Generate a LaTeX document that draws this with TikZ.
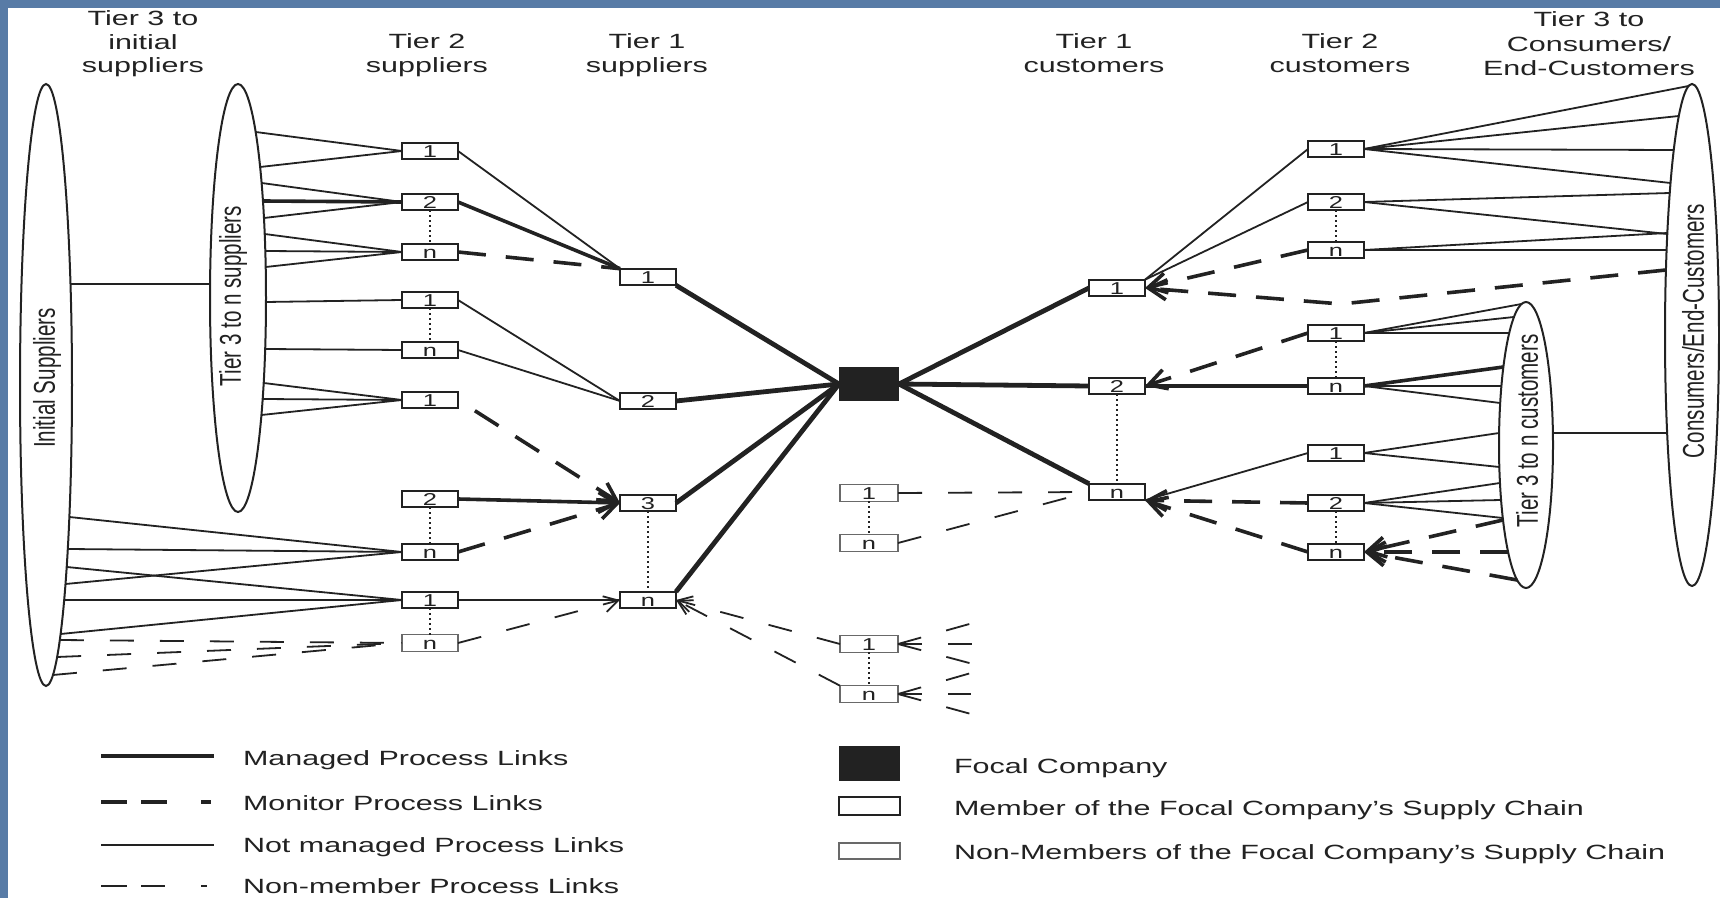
\documentclass[tikz,border=0pt]{standalone}
\usepackage{fontspec}
\setmainfont{Liberation Sans}
\newfontfamily\widesans{Liberation Sans}[FakeStretch=1.48]
\usetikzlibrary{arrows.meta,calc,shapes.geometric}

\definecolor{slide}{RGB}{88,123,166}
\definecolor{ink}{RGB}{34,34,34}
\definecolor{nmgray}{RGB}{105,105,105}

% point on the border of an ellipse node: name, node, rx (negative = left side), ry, dy
\newcommand\ept[5]{%
  \pgfmathsetmacro\eptdx{(#3)*sqrt(max(0,1-((#5)/(#4))*((#5)/(#4))))}%
  \coordinate (#1) at ($(#2.center)+(\eptdx,#5)$);}

\tikzset{
  every node/.style={inner sep=0pt, outer sep=0pt, text=ink},
  hdr/.style={font=\widesans\fontsize{10.3}{12}\selectfont, anchor=base},
  lgd/.style={font=\widesans\fontsize{10.3}{12}\selectfont, anchor=base west},
  mbox/.style={draw=ink, line width=1pt, fill=white, minimum width=28pt, minimum height=8.3pt,
    font=\widesans\fontsize{8.6}{9}\selectfont, text height=6.1pt, text depth=0pt},
  nbox/.style={mbox, draw=nmgray, line width=0.7pt},
  focal/.style={fill=ink, minimum width=30pt, minimum height=17pt},
  oval/.style={ellipse, draw=ink, line width=1pt},
  vlabel/.style={font=\fontsize{10.3}{12}\selectfont},
  plain/.style={draw=ink, line width=0.9pt},
  managed/.style={draw=ink, line width=1.8pt},
  core/.style={draw=ink, line width=2.4pt},
  monitor/.style={draw=ink, line width=1.8pt, dash pattern=on 14pt off 10pt},
  nonmem/.style={draw=ink, line width=0.9pt, dash pattern=on 12pt off 13pt},
  dots/.style={draw=ink, line width=1pt, dash pattern=on 1pt off 1.5pt},
  arr/.style={-{Straight Barb[length=9pt,width=10pt]}},
  arrs/.style={-{Straight Barb[length=7pt,width=8pt]}},
}

\begin{document}
\begin{tikzpicture}[x=0.5pt, y=-0.5pt]
% slide background and white sheet
\fill[slide] (0,0) rectangle (1720,898);
\fill[white] (8,8) rectangle (1720,898);
\useasboundingbox (0,0) rectangle (1720,898);

% column headings
\node[hdr] (h1a) at (143,26) {Tier 3 to};
\node[hdr] (h1b) at (143,50) {initial};
\node[hdr] (h1c) at (143,73) {suppliers};
\node[hdr] (h2a) at (427,49) {Tier 2};
\node[hdr] (h2b) at (427,73) {suppliers};
\node[hdr] (h3a) at (647,49) {Tier 1};
\node[hdr] (h3b) at (647,73) {suppliers};
\node[hdr] (h4a) at (1094,49) {Tier 1};
\node[hdr] (h4b) at (1094,73) {customers};
\node[hdr] (h5a) at (1340,49) {Tier 2};
\node[hdr] (h5b) at (1340,73) {customers};
\node[hdr] (h6a) at (1589,27) {Tier 3 to};
\node[hdr] (h6b) at (1589,52) {Consumers/};
\node[hdr] (h6c) at (1589,76) {End-Customers};

% outer tiers as ellipses
\node[oval, minimum width=26pt, minimum height=301pt] (E1) at (46,385) {};
\node[oval, minimum width=28pt, minimum height=214pt] (E2) at (238,298) {};
\node[oval, minimum width=27pt, minimum height=143pt] (E3) at (1526,445) {};
\node[oval, minimum width=27pt, minimum height=251pt] (E4) at (1692,335) {};
\node[vlabel] (E1t) at (47,378) {\scalebox{1.46}[1]{\rotatebox{90}{Initial Suppliers}}};
\node[vlabel] (E2t) at (233,296) {\scalebox{1.46}[1]{\rotatebox{90}{Tier 3 to n suppliers}}};
\node[vlabel] (E3t) at (1527,431) {\scalebox{1.46}[1]{\rotatebox{90}{Tier 3 to n customers}}};
\node[vlabel] (E4t) at (1693,331) {\scalebox{1.46}[1]{\rotatebox{90}{Consumers/End-Customers}}};

% tier 2 suppliers
\node[mbox] (s2a) at (430,151) {1};
\node[mbox] (s2b) at (430,202) {2};
\node[mbox] (s2c) at (430,252) {n};
\node[mbox] (s2d) at (430,300) {1};
\node[mbox] (s2e) at (430,350) {n};
\node[mbox] (s2f) at (430,400) {1};
\node[mbox] (s2g) at (430,499) {2};
\node[mbox] (s2h) at (430,552) {n};
\node[mbox] (s2i) at (430,600) {1};
\node[nbox] (s2j) at (430,643) {n};
% tier 1 suppliers
\node[mbox] (s1a) at (648,277) {1};
\node[mbox] (s1b) at (648,401) {2};
\node[mbox] (s1c) at (648,503) {3};
\node[mbox] (s1d) at (648,600) {n};
% focal company
\node[focal] (F) at (869,384) {};
% non-members in the middle
\node[nbox, minimum width=29pt] (m1) at (869,493) {1};
\node[nbox, minimum width=29pt] (m2) at (869,543) {n};
\node[nbox, minimum width=29pt] (l1) at (869,644) {1};
\node[nbox, minimum width=29pt] (l2) at (869,694) {n};
% tier 1 customers
\node[mbox] (c1a) at (1117,288) {1};
\node[mbox] (c1b) at (1117,386) {2};
\node[mbox] (c1c) at (1117,492) {n};
% tier 2 customers
\node[mbox] (c2a) at (1336,149) {1};
\node[mbox] (c2b) at (1336,202) {2};
\node[mbox] (c2c) at (1336,250) {n};
\node[mbox] (c2d) at (1336,333) {1};
\node[mbox] (c2e) at (1336,386) {n};
\node[mbox] (c2f) at (1336,453) {1};
\node[mbox] (c2g) at (1336,503) {2};
\node[mbox] (c2h) at (1336,552) {n};

% attachment points on the ellipses
\ept{E1h1}{E1}{26}{301}{132}
\ept{E1h2}{E1}{26}{301}{164}
\ept{E1h3}{E1}{26}{301}{199}
\ept{E1i1}{E1}{26}{301}{182}
\ept{E1i2}{E1}{26}{301}{215}
\ept{E1i3}{E1}{26}{301}{249}
\ept{E1j1}{E1}{26}{301}{255}
\ept{E1j2}{E1}{26}{301}{272}
\ept{E1j3}{E1}{26}{301}{290}
\ept{E1k}{E1}{26}{301}{-101}
\ept{E2k}{E2}{-28}{214}{-14}
\ept{E2a1}{E2}{28}{214}{-166}
\ept{E2a2}{E2}{28}{214}{-131}
\ept{E2b1}{E2}{28}{214}{-115}
\ept{E2b2}{E2}{28}{214}{-97}
\ept{E2b3}{E2}{28}{214}{-80}
\ept{E2c1}{E2}{28}{214}{-64}
\ept{E2c2}{E2}{28}{214}{-47}
\ept{E2c3}{E2}{28}{214}{-31}
\ept{E2d}{E2}{28}{214}{4}
\ept{E2e}{E2}{28}{214}{51}
\ept{E2f1}{E2}{28}{214}{85}
\ept{E2f2}{E2}{28}{214}{101}
\ept{E2f3}{E2}{28}{214}{117}
\ept{E3d1}{E3}{-27}{143}{-141}
\ept{E3d2}{E3}{-27}{143}{-128}
\ept{E3d3}{E3}{-27}{143}{-112}
\ept{E3e1}{E3}{-27}{143}{-78}
\ept{E3e2}{E3}{-27}{143}{-59}
\ept{E3e3}{E3}{-27}{143}{-42}
\ept{E3f1}{E3}{-27}{143}{-12}
\ept{E3f2}{E3}{-27}{143}{22}
\ept{E3g1}{E3}{-27}{143}{38}
\ept{E3g2}{E3}{-27}{143}{55}
\ept{E3g3}{E3}{-27}{143}{73}
\ept{E3h1}{E3}{-27}{143}{75}
\ept{E3h2}{E3}{-27}{143}{107}
\ept{E3h3}{E3}{-27}{143}{135}
\ept{E3r}{E3}{27}{143}{-12}
\ept{E4a1}{E4}{-27}{251}{-249}
\ept{E4a2}{E4}{-27}{251}{-219}
\ept{E4a3}{E4}{-27}{251}{-185}
\ept{E4a4}{E4}{-27}{251}{-152}
\ept{E4b1}{E4}{-27}{251}{-142}
\ept{E4b2}{E4}{-27}{251}{-101}
\ept{E4c1}{E4}{-27}{251}{-102}
\ept{E4c2}{E4}{-27}{251}{-85}
\ept{E4k}{E4}{-27}{251}{-65}
\ept{E4l}{E4}{-27}{251}{98}

% supplier side: outer tiers to tier 2
\draw[plain] (E1k) -- (E2k);
\foreach \p in {E2a1,E2a2} \draw[plain] (\p) -- (s2a.west);
\draw[plain] (E2b1) -- (s2b.west);
\draw[managed] (E2b2) -- (s2b.west);
\draw[plain] (E2b3) -- (s2b.west);
\foreach \p in {E2c1,E2c2,E2c3} \draw[plain] (\p) -- (s2c.west);
\draw[plain] (E2d) -- (s2d.west);
\draw[plain] (E2e) -- (s2e.west);
\foreach \p in {E2f1,E2f2,E2f3} \draw[plain] (\p) -- (s2f.west);
\foreach \p in {E1h1,E1h2,E1h3} \draw[plain] (\p) -- (s2h.west);
\foreach \p in {E1i1,E1i2,E1i3} \draw[plain] (\p) -- (s2i.west);
\foreach \p in {E1j1,E1j2,E1j3} \draw[nonmem] (\p) -- (s2j.west);

% tier 2 to tier 1 suppliers
\draw[plain] (s2a.east) -- (s1a.north west);
\draw[managed] (s2b.east) -- (s1a.north west);
\draw[monitor] (s2c.east) -- (s1a.north west);
\draw[plain] (s2d.east) -- (s1b.west);
\draw[plain] (s2e.east) -- (s1b.west);
\draw[monitor,arr,shorten <=10pt] (s2f.east) -- (s1c.west);
\draw[managed,arr] (s2g.east) -- (s1c.west);
\draw[monitor,arr] (s2h.east) -- (s1c.west);
\draw[plain] (s2i.east) -- (s1d.west);
\draw[nonmem,arrs] (s2j.east) -- (s1d.west);

% managed links around the focal company
\draw[core] (s1a.south east) -- (F.west);
\draw[core] (s1b.east) -- (F.west);
\draw[core] (s1c.east) -- (F.west);
\draw[core] (s1d.north east) -- (F.west);
\draw[core] (F.east) -- (c1a.west);
\draw[core] (F.east) -- (c1b.west);
\draw[core] (F.east) -- (c1c.north west);

% non-members below the focal company
\draw[nonmem] (m1.east) -- (c1c.west);
\draw[nonmem] (m2.east) -- (c1c.west);
\draw[nonmem,arrs] (l1.west) -- (s1d.east);
\draw[nonmem,arrs] (l2.north west) -- (s1d.east);
\coordinate (l1u) at (973,623);
\coordinate (l1m) at (973,644);
\coordinate (l1d) at (973,664);
\coordinate (l2u) at (971,673);
\coordinate (l2m) at (971,694);
\coordinate (l2d) at (971,714);
\foreach \p in {l1u,l1m,l1d} \draw[nonmem] (l1.east) -- (\p);
\foreach \p in {l2u,l2m,l2d} \draw[nonmem] (l2.east) -- (\p);

% customer side
\draw[plain] (c1a.north east) -- (c2a.west);
\draw[plain] (c1a.north east) -- (c2b.west);
\draw[monitor,arr] (c2c.west) -- (c1a.east);
\coordinate (bend) at (1341,304);
\draw[monitor,arr] (E4k) -- (bend) -- (c1a.east);
\foreach \p in {E4a1,E4a2,E4a3,E4a4} \draw[plain] (c2a.east) -- (\p);
\foreach \p in {E4b1,E4b2} \draw[plain] (c2b.east) -- (\p);
\foreach \p in {E4c1,E4c2} \draw[plain] (c2c.east) -- (\p);
\draw[plain] (E3r) -- (E4l);
\draw[monitor,arr] (c2d.west) -- (c1b.east);
\draw[managed] (c2e.west) -- (c1b.east);
\foreach \p in {E3d1,E3d2,E3d3} \draw[plain] (c2d.east) -- (\p);
\draw[managed] (c2e.east) -- (E3e1);
\foreach \p in {E3e2,E3e3} \draw[plain] (c2e.east) -- (\p);
\draw[plain] (c2f.west) -- (c1c.south east);
\foreach \p in {E3f1,E3f2} \draw[plain] (c2f.east) -- (\p);
\foreach \p in {E3g1,E3g2,E3g3} \draw[plain] (c2g.east) -- (\p);
\draw[monitor,arr] (c2g.west) -- (c1c.south east);
\draw[monitor,arr] (c2h.west) -- (c1c.south east);
\foreach \p in {E3h1,E3h2,E3h3} \draw[monitor,arr] (\p) -- (c2h.east);

% "1 ... n" dotted ranges
\draw[dots] (s2b.south) -- (s2c.north);
\draw[dots] (s2d.south) -- (s2e.north);
\draw[dots] (s2g.south) -- (s2h.north);
\draw[dots] (s2i.south) -- (s2j.north);
\draw[dots] (s1c.south) -- (s1d.north);
\draw[dots] (m1.south) -- (m2.north);
\draw[dots] (l1.south) -- (l2.north);
\draw[dots] (c1b.south) -- (c1c.north);
\draw[dots] (c2b.south) -- (c2c.north);
\draw[dots] (c2d.south) -- (c2e.north);
\draw[dots] (c2g.south) -- (c2h.north);

% legend
\draw[managed] (101,756) -- (214,756);
\draw[draw=ink, line width=1.8pt, dash pattern=on 13pt off 7pt on 13pt off 17pt on 5pt] (101,802) -- (214,802);
\draw[plain] (101,845) -- (214,845);
\draw[draw=ink, line width=0.9pt, dash pattern=on 13pt off 7pt on 12pt off 18pt on 3pt] (101,886) -- (214,886);
\node[lgd] (t1) at (243,765) {Managed Process Links};
\node[lgd] (t2) at (243,810) {Monitor Process Links};
\node[lgd] (t3) at (243,852) {Not managed Process Links};
\node[lgd] (t4) at (243,893) {Non-member Process Links};
\node[fill=ink, minimum width=30.5pt, minimum height=17.5pt] (kf) at (869.5,763.5) {};
\node[draw=ink, line width=1pt, minimum width=30.5pt, minimum height=9pt] (km) at (869.5,806) {};
\node[draw=nmgray, line width=0.7pt, minimum width=30.5pt, minimum height=8pt] (kn) at (869.5,851) {};
\node[lgd] (t5) at (954,773) {Focal Company};
\node[lgd] (t6) at (954,815) {Member of the Focal Company’s Supply Chain};
\node[lgd] (t7) at (954,859) {Non-Members of the Focal Company’s Supply Chain};
\end{tikzpicture}
\end{document}
